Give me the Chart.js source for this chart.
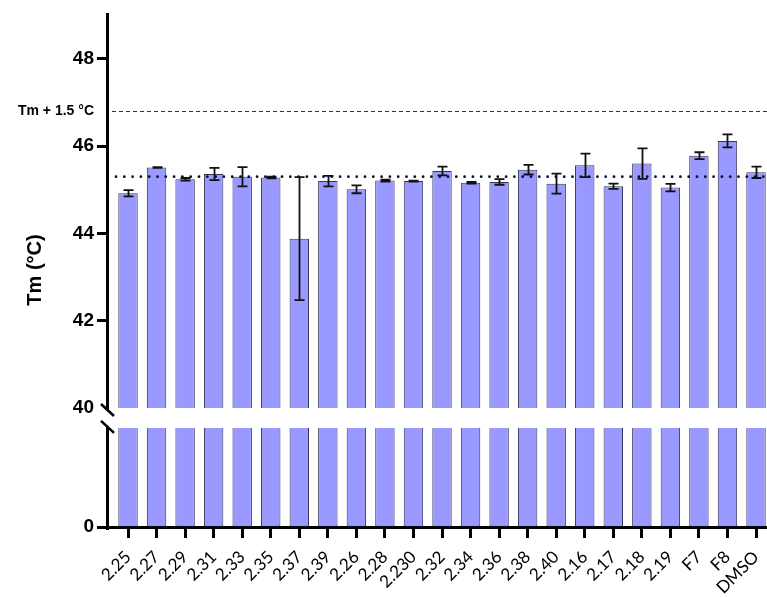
<!DOCTYPE html>
<html>
<head>
<meta charset="utf-8">
<title>Melting temperature by compound</title>
<script src="https://cdn.jsdelivr.net/npm/chart.js@4.4.1/dist/chart.umd.min.js"></script>
<style>
  html, body { margin: 0; padding: 0; background: #fff; }
  canvas { display: block; }
</style>
</head>
<body>
<canvas id="tm" width="767" height="597"></canvas>
<script>
// Compounds, in plotting order
const CATEGORIES = ['2.25', '2.27', '2.29', '2.31', '2.33', '2.35', '2.37', '2.39', '2.26', '2.28', '2.230',
  '2.32', '2.34', '2.36', '2.38', '2.40', '2.16', '2.17', '2.18', '2.19', 'F7', 'F8', 'DMSO'];

// Mean melting temperature (°C) and its standard deviation
const TM_MEAN = [44.92, 45.51, 45.24, 45.36, 45.30, 45.28, 43.88, 45.20, 45.01, 45.21, 45.20,
  45.43, 45.16, 45.18, 45.46, 45.14, 45.56, 45.08, 45.60, 45.05, 45.78, 46.12, 45.40];
const TM_SD = [0.07, 0.01, 0.03, 0.14, 0.22, 0.02, 1.41, 0.12, 0.09, 0.02, 0.01,
  0.10, 0.02, 0.065, 0.11, 0.23, 0.27, 0.06, 0.35, 0.085, 0.08, 0.15, 0.13];

// Reference Tm and the significance threshold above it
const TM_REF = 45.3;
const TM_SHIFT = 1.5;

// Tick values of the two axis segments
const Y_UPPER_TICKS = [40, 42, 44, 46, 48];
const Y_LOWER_TICKS = [0];

// The lower segment shows bars up to this value, then the axis breaks
const LOWER_SEGMENT_TOP = 10;

const FONT = "'Liberation Sans', Arial, sans-serif";
Chart.defaults.font.family = FONT;
Chart.defaults.color = '#000';

const shiftValue = TM_REF + TM_SHIFT;
const isShift = v => Math.abs(v - shiftValue) < 1e-6;

const BAR_STYLE = {
  backgroundColor: '#9999ff',
  borderColor: '#34345a',
  borderWidth: 1,
  grouped: false,
  barPercentage: 0.68,
  categoryPercentage: 1
};

// Error bars, reference lines, the broken y axis line and the axis title
const decorations = {
  id: 'decorations',
  afterDatasetsDraw(chart) {
    const { ctx, chartArea, scales } = chart;
    const { x, yTop, yBot } = scales;
    ctx.save();

    // dashed threshold line
    const yShift = Math.round(yTop.getPixelForValue(shiftValue)) + 0.5;
    ctx.strokeStyle = '#333';
    ctx.lineWidth = 1;
    ctx.setLineDash([4, 3]);
    ctx.beginPath();
    ctx.moveTo(chartArea.left + 5, yShift);
    ctx.lineTo(chartArea.right, yShift);
    ctx.stroke();

    // error bars (mean ± SD)
    ctx.setLineDash([]);
    ctx.strokeStyle = '#111';
    ctx.lineWidth = 1.8;
    TM_MEAN.forEach((m, i) => {
      const px = Math.round(x.getPixelForValue(i)) + 0.5;
      const hi = yTop.getPixelForValue(m + TM_SD[i]);
      const lo = yTop.getPixelForValue(m - TM_SD[i]);
      ctx.beginPath();
      ctx.moveTo(px, hi); ctx.lineTo(px, lo);
      ctx.moveTo(px - 5, hi); ctx.lineTo(px + 5, hi);
      ctx.moveTo(px - 5, lo); ctx.lineTo(px + 5, lo);
      ctx.stroke();
    });

    // dotted reference line
    const yRef = yTop.getPixelForValue(TM_REF);
    ctx.strokeStyle = '#0b0b2e';
    ctx.lineWidth = 2.8;
    ctx.lineCap = 'round';
    ctx.setLineDash([0, 8.3]);
    ctx.beginPath();
    ctx.moveTo(chartArea.left + 9, yRef);
    ctx.lineTo(chartArea.right, yRef);
    ctx.stroke();

    // broken y axis
    ctx.setLineDash([]);
    ctx.lineCap = 'butt';
    ctx.strokeStyle = '#000';
    ctx.lineWidth = 3;
    const ax = chartArea.left + 0.5;
    const upperBreak = yTop.getPixelForValue(Y_UPPER_TICKS[0]) + 2;
    const lowerBreak = yBot.getPixelForValue(LOWER_SEGMENT_TOP) - 1;
    ctx.beginPath();
    ctx.moveTo(ax, chartArea.top);
    ctx.lineTo(ax, upperBreak);
    ctx.moveTo(ax, lowerBreak);
    ctx.lineTo(ax, chartArea.bottom + 3);
    ctx.stroke();
    ctx.lineWidth = 2.6;
    [upperBreak, lowerBreak].forEach(yb => {
      ctx.beginPath();
      ctx.moveTo(ax - 6.5, yb - 6);
      ctx.lineTo(ax + 6.5, yb + 6);
      ctx.stroke();
    });

    // axis title
    ctx.fillStyle = '#000';
    ctx.font = 'bold 20px ' + FONT;
    ctx.textAlign = 'center';
    ctx.textBaseline = 'middle';
    ctx.translate(35, (chartArea.top + chartArea.bottom) / 2);
    ctx.rotate(-Math.PI / 2);
    ctx.fillText('Tm (°C)', 0, 0);
    ctx.restore();
  }
};

const yTickFont = { size: 19, weight: 'bold' };

new Chart(document.getElementById('tm'), {
  type: 'bar',
  data: {
    datasets: [
      Object.assign({
        label: 'Tm',
        data: TM_MEAN.map((v, i) => ({ x: i, y: v })),
        xAxisID: 'x',
        yAxisID: 'yTop',
        borderSkipped: 'start'
      }, BAR_STYLE),
      Object.assign({
        label: 'Tm (lower segment)',
        data: TM_MEAN.map((v, i) => ({ x: i, y: Math.min(v, LOWER_SEGMENT_TOP) })),
        xAxisID: 'x',
        yAxisID: 'yBot',
        borderSkipped: 'end'
      }, BAR_STYLE)
    ]
  },
  options: {
    responsive: false,
    animation: false,
    devicePixelRatio: 1,
    layout: { padding: { top: 13, left: 0, right: 0, bottom: 0 } },
    plugins: {
      legend: { display: false },
      tooltip: { enabled: false }
    },
    scales: {
      x: {
        type: 'linear',
        position: 'bottom',
        offset: false,
        min: -0.736,
        max: 22.385,
        afterBuildTicks: s => { s.ticks = CATEGORIES.map((_, i) => ({ value: i })); },
        ticks: {
          callback: v => CATEGORIES[v],
          autoSkip: false,
          minRotation: 45,
          maxRotation: 45,
          padding: 9,
          color: '#000',
          font: { family: 'Lato', size: 17 }
        },
        grid: { offset: false, drawOnChartArea: false, tickLength: 11, tickWidth: 3, tickColor: '#000' },
        border: { color: '#000', width: 3 },
        afterFit: s => { s.height = 70; s.paddingLeft = 0; s.paddingRight = 0; }
      },
      // lower segment is listed first: stacked scales are placed bottom-up here
      yBot: {
        type: 'linear',
        position: 'left',
        stack: 'tm',
        stackWeight: 119,
        min: 0,
        max: 12,
        afterBuildTicks: s => { s.ticks = Y_LOWER_TICKS.map(v => ({ value: v })); },
        ticks: { autoSkip: false, padding: 3, color: '#000', font: yTickFont },
        grid: { drawOnChartArea: false, tickLength: 10, tickWidth: 3, tickColor: '#000' },
        border: { display: false },
        afterFit: s => { s.width = 107; s.paddingTop = 0; s.paddingBottom = 0; }
      },
      yTop: {
        type: 'linear',
        position: 'left',
        stack: 'tm',
        stackWeight: 395,
        min: 40,
        max: 49.05,
        afterBuildTicks: s => {
          s.ticks = [...Y_UPPER_TICKS, shiftValue].sort((a, b) => a - b).map(v => ({ value: v }));
        },
        ticks: {
          autoSkip: false,
          padding: 3,
          color: '#000',
          callback: v => isShift(v) ? `Tm + ${TM_SHIFT} °C` : String(v),
          font: c => (c.tick && isShift(c.tick.value)) ? { size: 14, weight: 'bold' } : yTickFont
        },
        grid: {
          drawOnChartArea: false,
          tickLength: 10,
          tickWidth: 3,
          tickColor: c => (c.tick && (c.tick.value === Y_UPPER_TICKS[0] || isShift(c.tick.value))) ? 'rgba(0,0,0,0)' : '#000'
        },
        border: { display: false },
        afterFit: s => { s.width = 107; s.paddingTop = 0; s.paddingBottom = 0; }
      }
    }
  },
  plugins: [decorations]
});
</script>
</body>
</html>
